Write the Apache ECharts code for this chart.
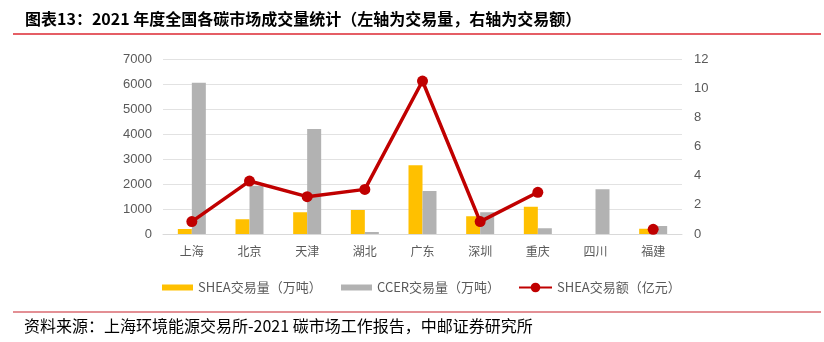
<!DOCTYPE html>
<html><head><meta charset="utf-8">
<script src="https://cdn.jsdelivr.net/npm/echarts@6/dist/echarts.min.js"></script>
<style>html,body{margin:0;padding:0;background:#fff}#c{width:824px;height:342px}</style>
</head><body><div id="c"></div>
<script>
const categories = ['上海','北京','天津','湖北','广东','深圳','重庆','四川','福建'];
const sheaVolume = [200, 590, 870, 960, 2750, 710, 1090, 0, 210];
const ccerVolume = [6050, 1930, 4200, 80, 1720, 870, 230, 1790, 320];
const sheaAmount = [0.85, 3.63, 2.56, 3.06, 10.49, 0.85, 2.86, null, 0.32];
const leftTicks = [0, 1000, 2000, 3000, 4000, 5000, 6000, 7000];
const rightTicks = [0, 2, 4, 6, 8, 10, 12];
const seriesNames = ['SHEA交易量（万吨）', 'CCER交易量（万吨）', 'SHEA交易额（亿元）'];
const titleText = '图表13：2021 年度全国各碳市场成交量统计（左轴为交易量，右轴为交易额）';
const sourceText = '资料来源：上海环境能源交易所-2021 碳市场工作报告，中邮证券研究所';

const chart = echarts.init(document.getElementById('c'));
const cjk = '"Noto Sans CJK SC", "Liberation Sans", sans-serif';
const legendText = { color: '#595959', fontSize: 13, fontFamily: cjk };
chart.setOption({
  animation: false,
  textStyle: { fontFamily: cjk },
  grid: { left: 163, right: 142, top: 59, bottom: 108 },
  legend: [
    { data: [seriesNames[0]], left: 157, top: 276, itemWidth: 31, itemHeight: 6, itemGap: 0, textStyle: legendText, icon: 'rect' },
    { data: [seriesNames[1]], left: 336, top: 276, itemWidth: 31, itemHeight: 6, itemGap: 0, textStyle: legendText, icon: 'rect' },
    { data: [seriesNames[2]], left: 513, top: 276, itemWidth: 33, itemHeight: 12, itemGap: 0, textStyle: legendText }
  ],
  xAxis: {
    type: 'category', data: categories,
    axisLine: { lineStyle: { color: '#D9D9D9' } },
    axisTick: { show: false },
    axisLabel: { color: '#595959', fontSize: 12, margin: 11 }
  },
  yAxis: [
    { type: 'value', min: leftTicks[0], max: leftTicks[leftTicks.length-1], interval: 1000,
      axisLabel: { color: '#595959', fontSize: 13, margin: 11, fontFamily: '"Liberation Sans", Arial, sans-serif', formatter: v => String(v) },
      splitLine: { lineStyle: { color: '#E2E2E2', width: 1.2 } },
      axisLine: { show: false }, axisTick: { show: false } },
    { type: 'value', min: rightTicks[0], max: rightTicks[rightTicks.length-1], interval: 2,
      axisLabel: { color: '#595959', fontSize: 13, margin: 12, fontFamily: '"Liberation Sans", Arial, sans-serif', formatter: v => String(v) },
      splitLine: { show: false }, axisLine: { show: false }, axisTick: { show: false } }
  ],
  series: [
    { name: seriesNames[0], type: 'bar', data: sheaVolume, barWidth: 14, barGap: '0%', itemStyle: { color: '#FFC000' } },
    { name: seriesNames[1], type: 'bar', data: ccerVolume, barWidth: 14, barGap: '0%', itemStyle: { color: '#B2B2B2' } },
    { name: seriesNames[2], type: 'line', yAxisIndex: 1, data: sheaAmount, connectNulls: false,
      symbol: 'circle', symbolSize: 11, z: 5,
      lineStyle: { color: '#C00000', width: 3.5 }, itemStyle: { color: '#C00000' } }
  ],
  graphic: [
    { type: 'text', left: 25, top: 11, style: { text: titleText, fontSize: 16, fontWeight: 'bold', fill: '#000', fontFamily: cjk } },
    { type: 'line', shape: { x1: 13, y1: 34, x2: 821, y2: 34 }, style: { stroke: '#DC2832', lineWidth: 1.5 } },
    { type: 'line', shape: { x1: 13, y1: 312, x2: 821, y2: 312 }, style: { stroke: '#C8202A', lineWidth: 1.2 } },
    { type: 'text', left: 24, top: 318, style: { text: sourceText, fontSize: 16, fill: '#000', fontFamily: cjk } }
  ]
});
</script></body></html>
